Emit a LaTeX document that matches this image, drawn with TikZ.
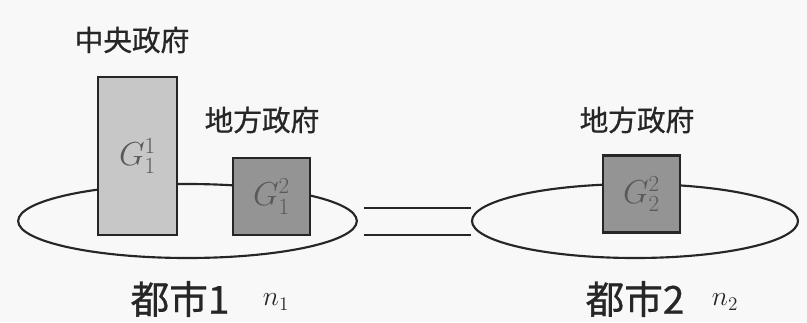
\documentclass[tikz,border=0pt]{standalone}
\usepackage{fontspec}
\newfontfamily\cjk[FakeBold=0.8]{Noto Sans CJK JP}
\usetikzlibrary{shapes.geometric}
\definecolor{ink}{HTML}{262626}
\definecolor{bg}{HTML}{F8F8F8}
\tikzset{
  city/.style={ellipse, draw=ink, line width=1.6pt, inner sep=0pt},
  govbox/.style={rectangle, draw=ink, line width=1.6pt, inner sep=0pt,
    font=\fontsize{24}{26}\selectfont, text=black!65},
  central/.style={govbox, fill=black!22, minimum width=59.25pt, minimum height=118.5pt},
  local/.style={govbox, fill=black!42, minimum width=57.75pt, minimum height=57.75pt},
  lbl/.style={font=\cjk\fontsize{21.5}{23}\selectfont, text=ink, inner sep=0pt},
  citylbl/.style={font=\cjk\fontsize{29}{31}\selectfont, text=ink, inner sep=0pt},
  nsym/.style={font=\fontsize{20}{22}\selectfont, text=ink, inner sep=0pt},
  link/.style={draw=ink, line width=1.6pt}
}
\begin{document}
\begin{tikzpicture}[x=0.75pt,y=-0.75pt]
\fill[bg] (0,0) rectangle (807,322);
\useasboundingbox (0,0) rectangle (807,322);
% cities
\node[city, minimum width=254pt, minimum height=55.5pt] (e1) at (187.5,221) {};
\node[city, minimum width=244.5pt, minimum height=55.5pt] (e2) at (635,221) {};
% governments
\node[central] (c) at (137.5,156) {$G^{1}_{1}$};
\node[local] (l1) at (271.5,196.5) {$G^{2}_{1}$};
\node[local] (l2) at (641.5,194) {$G^{2}_{2}$};
% labels
\node[lbl] (tc) at (132,40) {中央政府};
\node[lbl] (t1) at (262,120) {地方政府};
\node[lbl] (t2) at (637,120) {地方政府};
\node[citylbl] (city1) at (180,299) {都市1};
\node[nsym] (n1) at (276,302) {$n_1$};
\node[citylbl] (city2) at (635,299) {都市2};
\node[nsym] (n2) at (725,302) {$n_2$};
% double link
\draw[link] ([xshift=4.5pt,yshift=9.75pt]e1.east) -- ([yshift=9.75pt]e2.west);
\draw[link] ([xshift=4.5pt,yshift=-10.5pt]e1.east) -- ([yshift=-10.5pt]e2.west);
\end{tikzpicture}
\end{document}
